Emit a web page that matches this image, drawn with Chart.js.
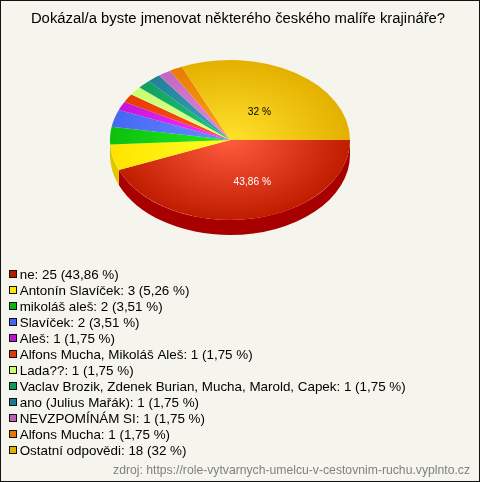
<!DOCTYPE html>
<html><head><meta charset="utf-8">
<style>html,body{margin:0;padding:0;background:#f5f5ed}canvas{display:block}</style>
<script src="https://cdn.jsdelivr.net/npm/chart.js@4"></script>
</head><body><canvas id="c" width="480" height="482"></canvas>
<script>
const titleText = 'Dokázal/a byste jmenovat některého českého malíře krajináře?';
const sourceText = 'zdroj: https://role-vytvarnych-umelcu-v-cestovnim-ruchu.vyplnto.cz';
const categories = ['ne','Antonín Slavíček','mikoláš aleš','Slavíček','Aleš','Alfons Mucha, Mikoláš Aleš','Lada??','Vaclav Brozik, Zdenek Burian, Mucha, Marold, Capek','ano (Julius Mařák)','NEVZPOMÍNÁM SI','Alfons Mucha','Ostatní odpovědi'];
const counts = [25,3,2,2,1,1,1,1,1,1,1,18];
const percents = ['43,86','5,26','3,51','3,51','1,75','1,75','1,75','1,75','1,75','1,75','1,75','32'];
const innerColors = ['#ff5c3e','#ffff22','#22ee22','#6a8cff','#ff33ff','#ff5522','#e4ff99','#22c87a','#3aa8c0','#e488e4','#ffa022','#ffe22c'];
const outerColors = ['#c01c00','#ffe400','#0cc00c','#4468f4','#c414dc','#e83c00','#c8ff70','#10a060','#208098','#c068c0','#e87c00','#e4b000'];
const legendColors = ['#b81800','#ffe800','#08b808','#4468f4','#c010d0','#e03c00','#c8ff70','#0c9c5c','#187c94','#bc60bc','#e87800','#e4b000'];
const sideColors = ['#a80000','#e0c800','#089008'];
const labelColors = {0:'#ffffff',11:'#000000'};

const swatch = c => { const s=document.createElement('canvas'); s.width=12; s.height=10; const x=s.getContext('2d');
  x.fillStyle='#111'; x.fillRect(4,0,8,8); x.fillStyle=c; x.fillRect(5,1,6,6); return s; };

const SQUASH = 2/3, DEPTH = 15;
const pie3d = {
  id:'pie3d',
  afterLayout(chart){
    chart.chartArea = {left:110,right:350,top:20,bottom:260,width:240,height:240};
    chart.boxes.forEach(b=>{
      if(b===chart.legend){ b.left=6.4; b.right=470; b.top=265.7; b.bottom=466; }
      else if(b===chart.titleBlock){ b.left=0; b.right=476; b.top=10; b.bottom=28; }
      else if(b.options && b.options.position==='bottom'){ b.left=0; b.right=470; b.top=463; b.bottom=479; }
    });
  },
  beforeDatasetsDraw(chart){
    const ctx=chart.ctx, arcs=chart.getDatasetMeta(0).data, cx=arcs[0].x, cy=arcs[0].y;
    ctx.save();
    ctx.translate(cx,cy); ctx.scale(1,SQUASH); ctx.translate(-cx,-cy);
    const d=DEPTH/SQUASH;
    arcs.forEach((a,i)=>{
      if(a.startAngle>=Math.PI||!sideColors[i])return;
      const e=Math.min(a.endAngle,Math.PI), r=a.outerRadius;
      ctx.beginPath();
      ctx.arc(a.x,a.y+d,r,a.startAngle,e);
      ctx.arc(a.x,a.y,r,e,a.startAngle,true);
      ctx.closePath();
      ctx.fillStyle=sideColors[i]; ctx.fill();
    });
  },
  afterDatasetsDraw(chart){
    const ctx=chart.ctx, arcs=chart.getDatasetMeta(0).data;
    ctx.restore();
    ctx.save();
    ctx.font='10.2px "Liberation Sans"'; ctx.textAlign='center'; ctx.textBaseline='middle';
    Object.keys(labelColors).forEach(k=>{
      const i=+k,a=arcs[i],m=(a.startAngle+a.endAngle)/2,r=i===0?64:50,nudge=i===0?10:2;
      ctx.fillStyle=labelColors[k];
      ctx.fillText(percents[i]+' %',a.x+Math.cos(m)*r+nudge,a.y+Math.sin(m)*r*SQUASH);
    });
    ctx.restore();
  },
  afterDraw(chart){
    const ctx=chart.ctx; ctx.save(); ctx.strokeStyle='#111'; ctx.lineWidth=1;
    ctx.strokeRect(0.5,0.5,479,481); ctx.restore();
  }
};

new Chart(document.getElementById('c'),{
  type:'pie',
  plugins:[pie3d],
  data:{labels:categories,datasets:[{
    data:counts, borderWidth:0, clip:false,
    backgroundColor(c){
      const i=c.dataIndex, a=c.chart.chartArea; if(!a||i===undefined)return outerColors[0];
      const cx=(a.left+a.right)/2, cy=(a.top+a.bottom)/2;
      const g=c.chart.ctx.createRadialGradient(cx,cy,0,cx,cy,120);
      g.addColorStop(0,innerColors[i]); g.addColorStop(1,outerColors[i]); return g;
    }
  }]},
  options:{
    responsive:false, animation:false, rotation:90,
    events:[],
    plugins:{
      tooltip:{enabled:false},
      title:{display:true,text:titleText,color:'#000',font:{family:'"Liberation Sans"',size:14.85,weight:'normal'},padding:0},
      subtitle:{display:true,text:sourceText,position:'bottom',align:'end',color:'#808080',font:{family:'"Liberation Sans"',size:12.2,weight:'normal'},padding:0},
      legend:{position:'left',align:'start',labels:{
        color:'#000',font:{family:'"Liberation Sans"',size:13.4,lineHeight:'14px'},
        usePointStyle:true,pointStyleWidth:4,boxHeight:8,padding:2.6,
        generateLabels:()=>categories.map((n,i)=>({text:`${n}: ${counts[i]} (${percents[i]} %)`,pointStyle:swatch(legendColors[i]),fillStyle:legendColors[i],strokeStyle:'#111',lineWidth:1,hidden:false,index:i,datasetIndex:0}))
      }}
    }
  }
});
</script></body></html>
